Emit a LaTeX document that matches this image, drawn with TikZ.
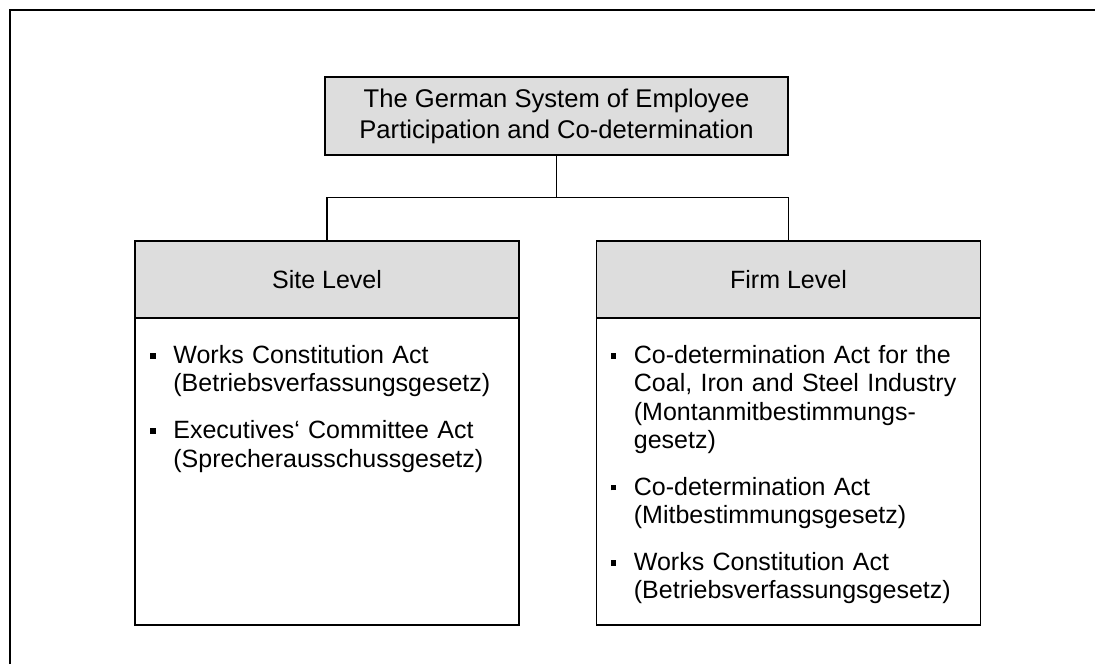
\documentclass[tikz,border=0pt]{standalone}
\usepackage{fontspec}
\setmainfont{Liberation Sans}
\usetikzlibrary{positioning}
\definecolor{boxgray}{RGB}{221,221,221}
% one law per paragraph, small square bullet, hanging second lines
\newcommand{\lawitem}[1]{\noindent\hangindent=11.5pt\hangafter=1\makebox[11.5pt][l]{\rule[0.2em]{2.7pt}{2.7pt}}#1\par}

\begin{document}
\begin{tikzpicture}[x=0.5pt,y=-0.5pt,
    every node/.style={font=\fontsize{12.5}{14.15}\selectfont},
    frame/.style={line width=1pt},
    link/.style={line width=0.7pt},
    titlebox/.style={draw, line width=0.7pt, fill=boxgray, minimum width=231.5pt, minimum height=39pt,
      inner sep=0pt, align=center, font=\fontsize{12.8}{15.6}\selectfont},
    levelhead/.style={draw, line width=0.7pt, fill=boxgray, minimum width=192pt, minimum height=38.5pt,
      inner sep=0pt, outer sep=0pt},
    levelbody/.style={draw, line width=0.7pt, minimum width=192pt, minimum height=153.5pt,
      inner sep=0pt, outer sep=0pt},
    lawlist/.style={anchor=north west, inner sep=0pt, text width=180pt, align=left}]
  \useasboundingbox (0,0) rectangle (1095,664);
  \draw[frame] (10,664) |- (1095,10);

  % tree
  \node[titlebox] (system) at (556.5,116) {The German System of Employee\\Participation and Co-determination};
  \node[levelhead] (sitehead) at (327,279.5) {Site Level};
  \node[levelhead] (firmhead) at (788.5,279.5) {Firm Level};
  \node[levelbody, below=0pt of sitehead] (sitebody) {};
  \node[levelbody, below=0pt of firmhead] (firmbody) {};

  \coordinate (fork) at ([yshift=-21pt]system.south);
  \draw[link] (system.south) -- (fork) -| (sitehead.north);
  \draw[link] (fork) -| (firmhead.north);

  % laws
  \node[lawlist] (sitelaws) at ([xshift=7.5pt,yshift=-13.5pt]sitebody.north west) {\setlength{\parskip}{9.3pt}%
    \lawitem{Works Constitution Act\newline (Betriebsverfassungsgesetz)}
    \lawitem{Executives‘ Committee Act\newline (Sprecherausschussgesetz)}};
  \node[lawlist] (firmlaws) at ([xshift=7pt,yshift=-13.5pt]firmbody.north west) {\setlength{\parskip}{9.3pt}%
    \lawitem{Co-determination Act for the\newline Coal, Iron and Steel Industry\newline (Montanmitbestimmungs-\newline gesetz)}
    \lawitem{Co-determination Act\newline (Mitbestimmungsgesetz)}
    \lawitem{Works Constitution Act\newline (Betriebsverfassungsgesetz)}};
\end{tikzpicture}
\end{document}
